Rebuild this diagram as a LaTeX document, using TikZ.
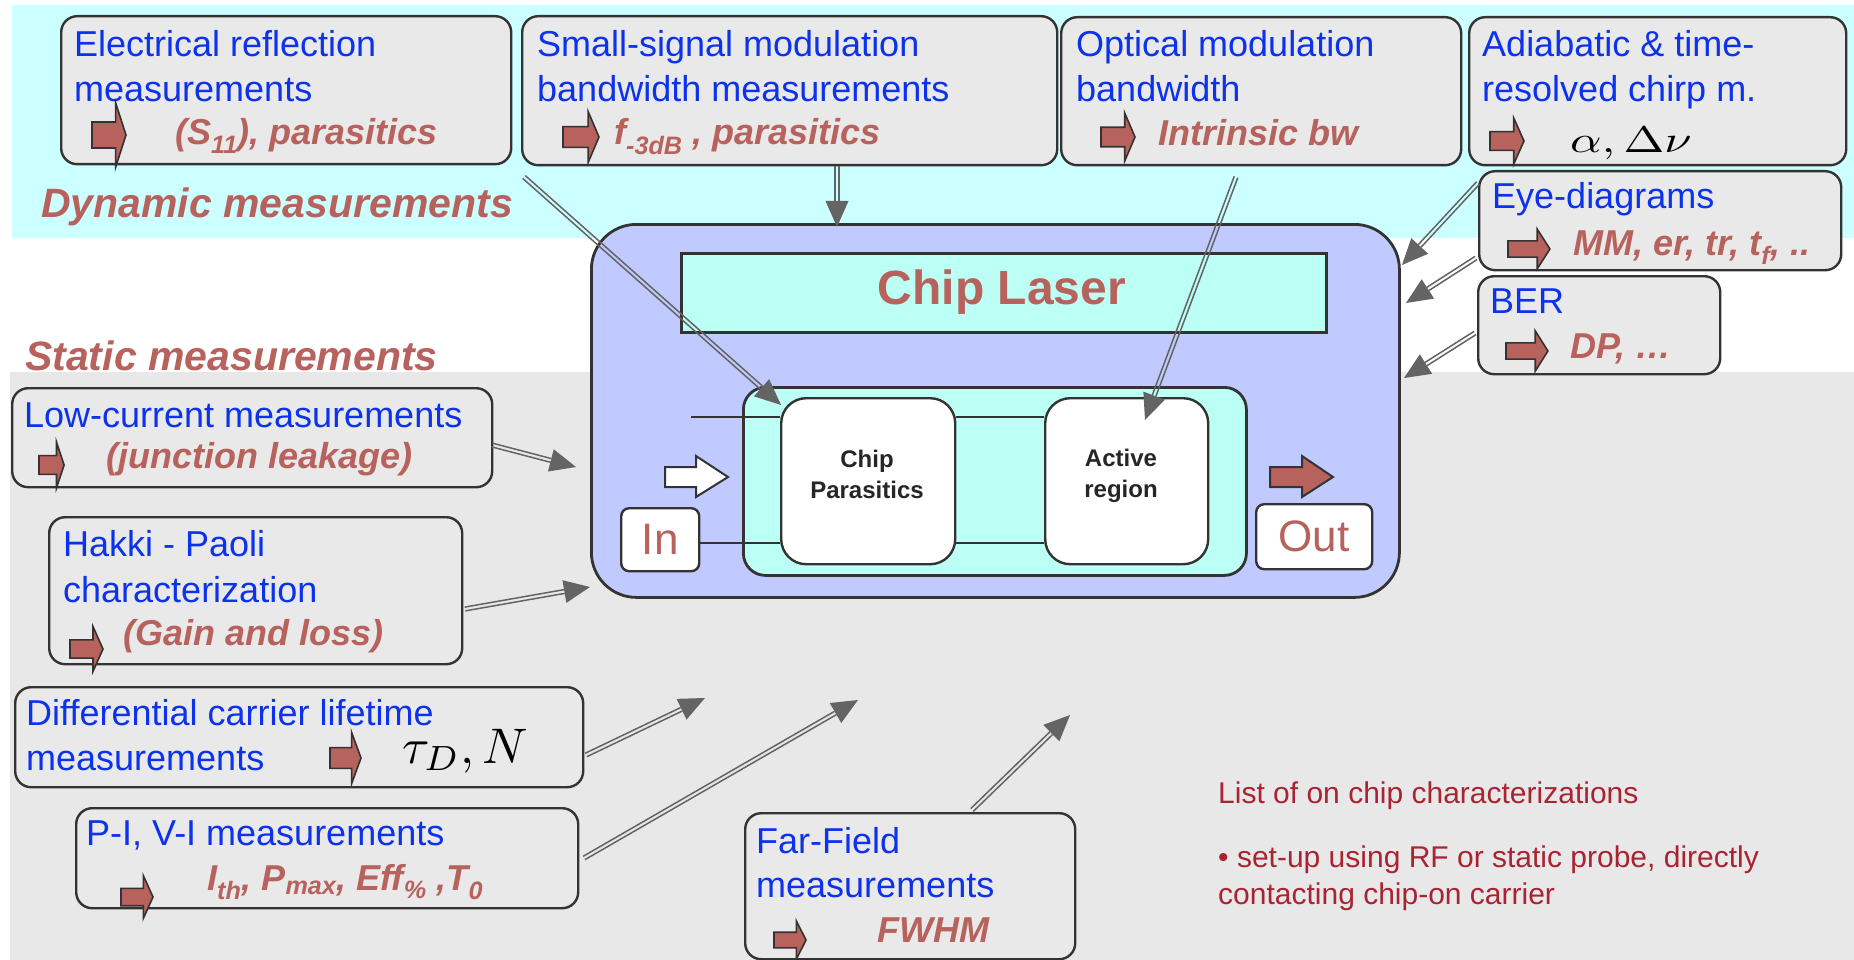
\documentclass[tikz,border=0pt]{standalone}
\usepackage{fontspec}
\setmainfont{Liberation Sans}
\usetikzlibrary{calc}
\definecolor{cyanbg}{RGB}{204,255,255}
\definecolor{graybg}{RGB}{232,232,232}
\definecolor{boxfill}{RGB}{233,233,233}
\definecolor{boxline}{RGB}{51,51,51}
\definecolor{chipblue}{RGB}{192,202,255}
\definecolor{chipcyan}{RGB}{188,255,245}
\definecolor{brownT}{RGB}{183,98,92}
\definecolor{blueT}{RGB}{12,50,235}
\definecolor{noteT}{RGB}{170,35,50}
\definecolor{connC}{RGB}{100,100,100}
\newcommand\iconarr[4]{\draw[iconst, shift={(#1,#2)}, xscale=#3, yscale=#4] (0,-13) -- (23,-13) -- (23,-32) -- (33,0) -- (23,32) -- (23,13) -- (0,13) -- cycle;}
\newcommand\dconn[2]{%
  \coordinate (tmpE) at ($(#2)!26pt!(#1)$);
  \draw[connln] ($(#1)!1.9pt!90:(tmpE)$) -- ($(tmpE)!1.9pt!-90:(#1)$);
  \draw[connln] ($(#1)!1.9pt!-90:(tmpE)$) -- ($(tmpE)!1.9pt!90:(#1)$);
  \fill[connC] (#2) -- ($(tmpE)!11.5pt!90:(#1)$) -- ($(tmpE)!11.5pt!-90:(#1)$) -- cycle;}
\begin{document}
\begin{tikzpicture}[x=1pt,y=-1pt,
  mbox/.style={draw=boxline, line width=2.4pt, fill=boxfill, rounded corners=16pt, anchor=north west, inner sep=0pt},
  bluetxt/.style={anchor=base west, inner sep=0pt, text=blueT, font=\fontsize{36}{43}\selectfont},
  browntxt/.style={anchor=base west, inner sep=0pt, text=brownT, font=\fontsize{36}{43}\selectfont\bfseries\itshape},
  headtxt/.style={anchor=base west, inner sep=0pt, text=brownT, font=\fontsize{41}{48}\selectfont\bfseries\itshape},
  notetxt/.style={anchor=base west, inner sep=0pt, text=noteT, font=\fontsize{30}{36}\selectfont},
  mathtxt/.style={anchor=base west, inner sep=0pt, text=black, font=\fontsize{10}{12}\selectfont},
  iconst/.style={fill=brownT, draw=boxline, line width=1.6pt, line join=miter},
  connln/.style={draw=connC, line width=1.5pt},
  chipline/.style={draw=boxline, line width=2.8pt},
  whitebox/.style={draw=boxline, line width=2.4pt, fill=white, anchor=north west, inner sep=0pt},
  innertxt/.style={align=center, inner sep=0pt, text=black!85, font=\fontsize{24}{31}\selectfont\bfseries}
]
\useasboundingbox (0,0) rectangle (1854,960);
% backgrounds
\fill[white] (0,0) rectangle (1854,960);
\fill[cyanbg] (12,5) rectangle (1854,238);
\fill[graybg] (10,372) rectangle (1854,960);

% section headings
\node[headtxt] (hdyn) at (41,218) {Dynamic measurements};
\node[headtxt] (hsta) at (25,370) {Static measurements};

% measurement boxes
\node[mbox, minimum width=450pt, minimum height=148pt] (b1) at (60,15) {};
\node[mbox, minimum width=535pt, minimum height=149pt] (b2) at (521,15) {};
\node[mbox, minimum width=400pt, minimum height=148pt] (b3) at (1060,16) {};
\node[mbox, minimum width=377pt, minimum height=148pt] (b4) at (1468,16) {};
\node[mbox, minimum width=362pt, minimum height=99pt] (b5) at (1478,170) {};
\node[mbox, minimum width=242pt, minimum height=98pt] (b6) at (1477,275) {};
\node[mbox, minimum width=480pt, minimum height=99pt] (b7) at (11,387) {};
\node[mbox, minimum width=413pt, minimum height=147pt] (b8) at (48,516) {};
\node[mbox, minimum width=568pt, minimum height=100pt] (b9) at (14,686) {};
\node[mbox, minimum width=502pt, minimum height=100pt] (b10) at (75,807) {};
\node[mbox, minimum width=330pt, minimum height=146pt] (b11) at (744,812) {};

% blue texts
\node[bluetxt] (t1a) at (74,57) {Electrical reflection};
\node[bluetxt] (t1b) at (74,102) {measurements};
\node[bluetxt] (t2a) at (537,57) {Small-signal modulation};
\node[bluetxt] (t2b) at (537,102) {bandwidth measurements};
\node[bluetxt] (t3a) at (1076,57) {Optical modulation};
\node[bluetxt] (t3b) at (1076,102) {bandwidth};
\node[bluetxt] (t4a) at (1482,57) {Adiabatic \& time-};
\node[bluetxt] (t4b) at (1482,102) {resolved chirp m.};
\node[bluetxt] (t5a) at (1492,208) {Eye-diagrams};
\node[bluetxt] (t6a) at (1490,313) {BER};
\node[bluetxt] (t7a) at (24,427) {Low-current measurements};
\node[bluetxt] (t8a) at (63,556) {Hakki - Paoli};
\node[bluetxt] (t8b) at (63,602) {characterization};
\node[bluetxt] (t9a) at (26,725) {Differential carrier lifetime};
\node[bluetxt] (t9b) at (26,770) {measurements};
\node[bluetxt] (t10a) at (86,845) {P-I, V-I measurements};
\node[bluetxt] (t11a) at (756,853) {Far-Field};
\node[bluetxt] (t11b) at (756,897) {measurements};

% icons
\iconarr{92}{135}{1.03}{1.0}
\iconarr{563}{137}{1.09}{0.8}
\iconarr{1101}{137}{1.03}{0.75}
\iconarr{1490}{141}{1.03}{0.72}
\iconarr{1508}{249}{1.27}{0.62}
\iconarr{1506}{351}{1.27}{0.63}
\iconarr{39}{465}{0.76}{0.72}
\iconarr{70}{649}{1.0}{0.7}
\iconarr{330}{758}{0.94}{0.8}
\iconarr{121}{897}{0.97}{0.67}
\iconarr{774}{940}{0.97}{0.6}

% brown results
\node[browntxt] (r1) at (175,145) {(S\textsubscript{11}), parasitics};
\node[browntxt] (r2) at (614,145) {f\textsubscript{-3dB} , parasitics};
\node[browntxt] (r3) at (1158,146) {Intrinsic bw};
\node[mathtxt] (r4) at (1570,153) {\scalebox{4.9}[3.7]{$\alpha,\Delta\nu$}};
\node[browntxt] (r5) at (1573,255) {MM, er, tr, t\textsubscript{f}, ..};
\node[browntxt] (r6) at (1570,358) {DP, …};
\node[browntxt] (r7) at (106,468) {(junction leakage)};
\node[browntxt] (r8) at (123,645) {(Gain and loss)};
\node[mathtxt] (r9) at (402,763) {\scalebox{5.0}{$\tau_D, N$}};
\node[browntxt] (r10) at (207,890) {I\textsubscript{th}, P\textsubscript{max}, Eff\textsubscript{\%} ,T\textsubscript{0}};
\node[browntxt] (r11) at (877,942) {FWHM};

% chip
\node[draw=boxline, line width=2.8pt, fill=chipblue, rounded corners=45pt, minimum width=808pt, minimum height=373pt, anchor=north west, inner sep=0pt] (chip) at (590,223) {};
\node[draw=boxline, line width=2.8pt, fill=chipcyan, minimum width=645pt, minimum height=79pt, anchor=north west, inner sep=0pt] (laser) at (680,252) {};
\node[text=brownT, font=\fontsize{48}{56}\selectfont\bfseries] (laserT) at (1002,292) {Chip Laser};
\node[draw=boxline, line width=2.8pt, fill=chipcyan, rounded corners=22pt, minimum width=503pt, minimum height=188pt, anchor=north west, inner sep=0pt] (inner) at (742,386) {};
\coordinate (topl) at (691,417);
\coordinate (botl) at (698,543);
\node[whitebox, rounded corners=25pt, minimum width=174pt, minimum height=166pt] (pc) at (780,397) {};
\node[whitebox, rounded corners=25pt, minimum width=163pt, minimum height=166pt] (ar) at (1044,397) {};
\draw[chipline] (topl) -- (topl -| pc.west);
\draw[chipline] (topl -| pc.east) -- (topl -| ar.west);
\draw[chipline] (botl -| pc.east) -- (botl -| ar.west);
\node[innertxt] (pcT) at (867,474) {Chip\\Parasitics};
\node[innertxt] (arT) at (1121,476) {Active\\region};
\node[whitebox, rounded corners=8pt, minimum width=78pt, minimum height=63pt] (inb) at (620,507) {};
\node[text=brownT, font=\fontsize{44}{50}\selectfont, inner sep=0pt] (inT) at (inb.center) {In};
\draw[chipline] (inb.east |- botl) -- (botl -| pc.west);
\node[whitebox, rounded corners=8pt, minimum width=116pt, minimum height=65pt] (outb) at (1255,503) {};
\node[text=brownT, font=\fontsize{44}{50}\selectfont, inner sep=0pt] (outT) at (outb.center) {Out};
\draw[fill=white, draw=boxline, line width=2pt] (665,467) -- (696,467) -- (696,456) -- (728,477) -- (696,497) -- (696,487) -- (665,487) -- cycle;
\draw[fill=brownT, draw=boxline, line width=2pt] (1270,467) -- (1302,467) -- (1302,456) -- (1333,477) -- (1302,497) -- (1302,487) -- (1270,487) -- cycle;

% connectors
\coordinate (c1s) at (524,177);  \coordinate (c1e) at (781,405);
\coordinate (c2s) at (b2.south -| 837,0); \coordinate (c2e) at (837,227);
\coordinate (c3s) at (1236,177); \coordinate (c3e) at (1145,420);
\coordinate (c4s) at (1478,183); \coordinate (c4e) at (1402,265);
\coordinate (c5s) at (1476,258); \coordinate (c5e) at (1406,303);
\coordinate (c6s) at (1475,333); \coordinate (c6e) at (1404,378);
\coordinate (c7s) at (492,445);  \coordinate (c7e) at (576,467);
\coordinate (c8s) at (465,609);  \coordinate (c8e) at (590,587);
\coordinate (c9s) at (586,755);  \coordinate (c9e) at (705,698);
\coordinate (c10s) at (584,858); \coordinate (c10e) at (858,700);
\coordinate (c11s) at (972,810); \coordinate (c11e) at (1070,715);
\dconn{c1s}{c1e}
\dconn{c2s}{c2e}
\dconn{c3s}{c3e}
\dconn{c4s}{c4e}
\dconn{c5s}{c5e}
\dconn{c6s}{c6e}
\dconn{c7s}{c7e}
\dconn{c8s}{c8e}
\dconn{c9s}{c9e}
\dconn{c10s}{c10e}
\dconn{c11s}{c11e}

% note
\node[notetxt] (n1) at (1218,803) {List of on chip characterizations};
\node[notetxt] (n2) at (1218,867) {• set-up using RF or static probe, directly};
\node[notetxt] (n3) at (1218,904) {contacting chip-on carrier};
\end{tikzpicture}
\end{document}
